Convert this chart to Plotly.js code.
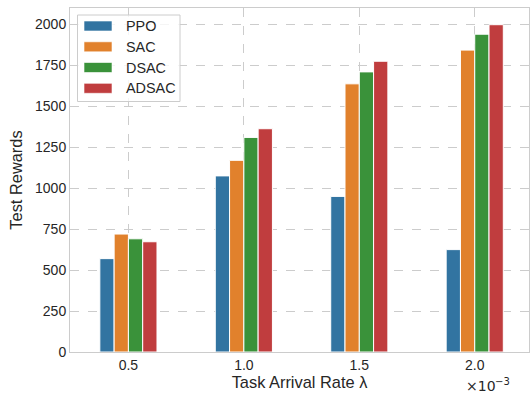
<!DOCTYPE html>
<html>
<head>
<meta charset="utf-8">
<script src="https://cdn.plot.ly/plotly-3.0.1.min.js"></script>
<style>html,body{margin:0;padding:0;background:#fff;}#chart{width:530px;height:394px;}</style>
</head>
<body>
<div id="chart"></div>
<script>
const rates = [0.5, 1.0, 1.5, 2.0];
const tickLabels = ["0.5", "1.0", "1.5", "2.0"];
const ppo = [570, 1075, 950, 625];
const sac = [720, 1170, 1637, 1843];
const dsac = [691, 1310, 1710, 1940];
const adsac = [673, 1363, 1775, 1998];
const names = ["PPO", "SAC", "DSAC", "ADSAC"];
const colors = ["#3274a1", "#e1812c", "#3a923a", "#c03d3e"];
const series = [ppo, sac, dsac, adsac];

const traces = series.map((vals, i) => ({
  type: "bar",
  x: rates,
  y: vals,
  name: names[i],
  marker: {color: colors[i], line: {color: "#ffffff", width: 1}}
}));

const W = 530, H = 394, ML = 70, MR = 1, MT = 8, MB = 42;
const PW = W - ML - MR, PH = H - MT - MB;
const px = v => (v - ML) / PW;
const py = v => (H - MB - v) / PH;

const font = "Liberation Sans, Arial, sans-serif";
const txt = "#262626";

// legend drawn as shapes + text in paper coordinates
const shapes = [{
  type: "rect", xref: "paper", yref: "paper", layer: "above",
  x0: px(77.5), x1: px(180), y0: py(101.5), y1: py(15),
  fillcolor: "rgba(255,255,255,0.8)", line: {color: "#cccccc", width: 1}
}];
const annotations = [];
const rowY = [26, 46.8, 67.5, 88.3];
names.forEach((n, i) => {
  shapes.push({
    type: "rect", xref: "paper", yref: "paper", layer: "above",
    x0: px(84), x1: px(112), y0: py(rowY[i] + 5), y1: py(rowY[i] - 5),
    fillcolor: colors[i], line: {color: "rgba(255,255,255,0.6)", width: 1}
  });
  annotations.push({
    xref: "paper", yref: "paper", x: px(123.5), y: py(rowY[i]),
    xanchor: "left", yanchor: "middle", showarrow: false,
    text: n, font: {family: font, size: 14.4, color: txt}
  });
});
annotations.push({
  xref: "paper", yref: "paper", x: px(463.5), y: py(385.5),
  xanchor: "left", yanchor: "middle", showarrow: false,
  text: "×10", font: {family: "DejaVu Sans, sans-serif", size: 14, color: txt}
});
annotations.push({
  xref: "paper", yref: "paper", x: px(492.5), y: py(381.5),
  xanchor: "left", yanchor: "middle", showarrow: false,
  text: "−3", font: {family: "DejaVu Sans, sans-serif", size: 10, color: txt}
});

const layout = {
  width: W, height: H,
  margin: {l: ML, r: MR, t: MT, b: MB},
  paper_bgcolor: "#ffffff",
  plot_bgcolor: "#ffffff",
  barmode: "group",
  bargap: 0.505,
  bargroupgap: 0.0,
  showlegend: false,
  font: {family: font, color: txt, size: 14},
  xaxis: {
    range: [0.247, 2.235],
    tickvals: rates, ticktext: tickLabels,
    showgrid: true, gridcolor: "#cccccc", griddash: "dash", gridwidth: 1,
    showline: true, linecolor: "#cccccc", linewidth: 1, mirror: true,
    zeroline: false, ticks: "",
    tickfont: {size: 14, color: txt},
    title: {text: "Task Arrival Rate λ", font: {size: 16.4, color: txt}, standoff: 4}
  },
  yaxis: {
    range: [0, 2100],
    tickvals: [0, 250, 500, 750, 1000, 1250, 1500, 1750, 2000],
    tickformat: "d",
    showgrid: true, gridcolor: "#cccccc", griddash: "dash", gridwidth: 1,
    showline: true, linecolor: "#cccccc", linewidth: 1, mirror: true,
    zeroline: false, ticks: "",
    tickfont: {size: 14, color: txt},
    title: {text: "Test Rewards", font: {size: 16.4, color: txt}, standoff: 8}
  },
  shapes: shapes,
  annotations: annotations
};

Plotly.newPlot("chart", traces, layout, {displayModeBar: false, staticPlot: true});
</script>
</body>
</html>
